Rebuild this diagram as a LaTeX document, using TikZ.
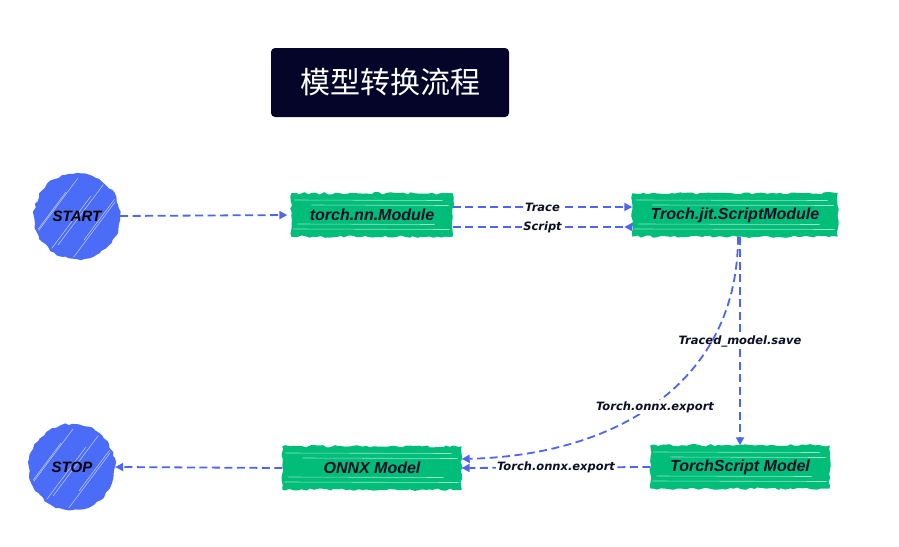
\documentclass[tikz,border=0pt]{standalone}
\usepackage{fontspec}
\setmainfont{Liberation Sans}
\newfontfamily\cjkfont{Noto Sans CJK SC}
\newfontfamily\labfont{DejaVu Sans}[BoldFont={DejaVu Sans Bold},ItalicFont={DejaVu Sans Oblique},BoldItalicFont={DejaVu Sans Bold Oblique}]
\usetikzlibrary{arrows.meta,decorations.pathmorphing,backgrounds,calc}
\definecolor{boxgreen}{HTML}{00BE7A}
\definecolor{circblue}{HTML}{4A6CF7}
\definecolor{arrblue}{HTML}{4D65F0}
\definecolor{navy}{HTML}{05052A}
\definecolor{txt}{HTML}{0E0E25}
\begin{document}
\begin{tikzpicture}[x=1pt,y=-1pt,
  flowline/.style={draw=arrblue, line width=1.8pt, dash pattern=on 8pt off 4.5pt},
  flow/.style={flowline, -{Triangle[length=8pt,width=8pt]}},
  flowrev/.style={flowline, -{Triangle[reversed,length=8pt,width=8pt]}},
  box/.style={minimum width=#1, minimum height=43pt, inner sep=0pt,
    font=\bfseries\itshape\fontsize{16}{18}\selectfont, text=txt},
  term/.style={circle, minimum size=86pt, inner sep=0pt,
    font=\bfseries\itshape\fontsize{15}{18}\selectfont, text=black},
  elab/.style={font=\labfont\bfseries\itshape\fontsize{11.5}{13}\selectfont,
    text=txt, fill=white, inner sep=1pt},
  rough/.style={decorate, decoration={random steps, segment length=4pt, amplitude=1.2pt}},
  streak/.style={white, line width=0.6pt, opacity=0.6},
]
\pgfmathsetseed{7}
\useasboundingbox (0,0) rectangle (899,546);

% title
\node[fill=navy, rounded corners=4pt, minimum width=238pt, minimum height=69pt,
  text=white, font=\cjkfont\fontsize{30}{32}\selectfont] (title) at (390,82.5) {模型转换流程};

% nodes
\node[term] (start) at (77,216) {START};
\node[term] (stop) at (72,467) {STOP};
\node[box=161pt] (nn) at (372,215) {torch.nn.Module};
\node[box=205pt] (jit) at (735,215) {Troch.jit.ScriptModule};
\node[box=179pt] (onnx) at (372,468) {ONNX Model};
\node[box=179pt] (ts) at (740,467) {TorchScript Model};

% sketchy fills
\begin{scope}[on background layer]
  \foreach \n in {start,stop}{
    \fill[circblue, rough] (\n.center) circle (43);
    \begin{scope}
      \clip (\n.center) circle (41);
      \foreach \o/\s in {-33/6,-21/-8,-8/10,7/-5,19/12,33/-10}
        \draw[streak] ($(\n.center)+(\o-26,34+\s)$) -- ($(\n.center)+(\o+22,-30+\s)$);
    \end{scope}
  }
  \foreach \n in {nn,jit,onnx,ts}{
    \fill[boxgreen, rough] (\n.south west) rectangle (\n.north east);
    \foreach \d/\l/\r in {-15/3/-10, -10/20/-4, 9/6/-18, 14/2/-3}
      \draw[streak] ($(\n.west)+(\l,\d)$) -- ($(\n.east)+(\r,\d+0.5)$);
  }
\end{scope}

% connectors
\draw[flow, shorten >=4pt] (start.east) -- (nn.west);
\draw[flow] ($(nn.east)+(0,-8)$) -- ($(jit.west)+(0,-8)$)
  node[elab, midway] {Trace};
\draw[flowrev] ($(nn.east)+(0,12)$) -- ($(jit.west)+(0,12)$)
  node[elab, midway] {Script};
\draw[flow] (jit.south -| ts.north) -- (ts.north)
  node[elab, midway] {Traced\_model.save};
\draw[flow] ($(jit.south)+(3,0)$) .. controls (738,380) and (620,455) .. ($(onnx.east)+(0,-9)$);
\node[elab] (curvelab) at (655,407) {Torch.onnx.export};
\draw[flow] (ts.west) -- (onnx.east)
  node[elab, midway] {Torch.onnx.export};
\draw[flow] (onnx.west) -- (stop.east);
\end{tikzpicture}
\end{document}
